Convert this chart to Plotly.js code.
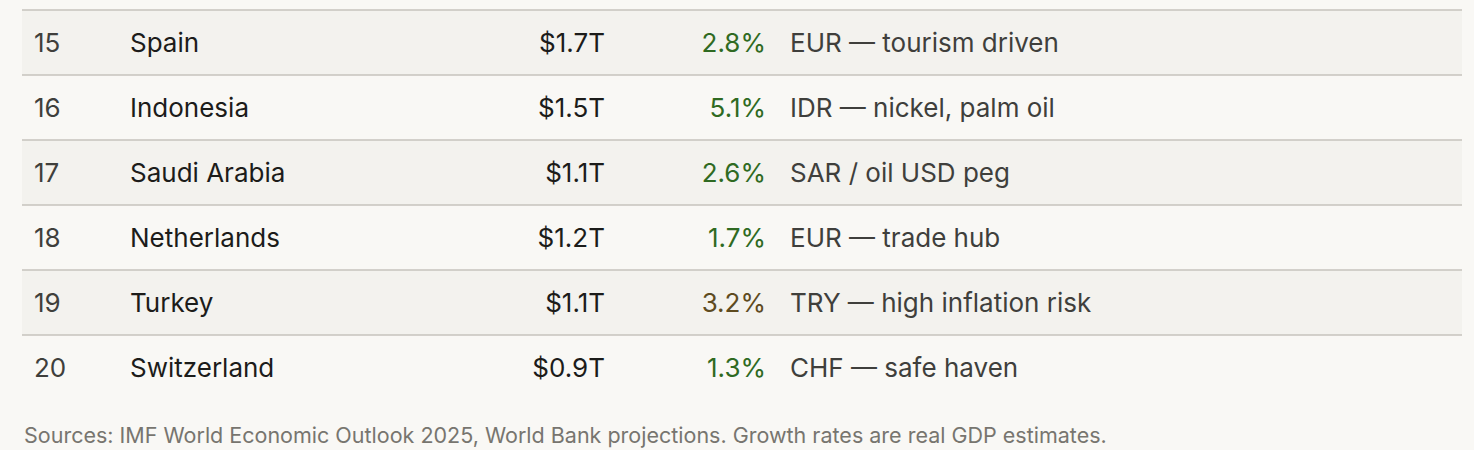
<!DOCTYPE html>
<html><head><meta charset="utf-8">
<script src="https://cdn.plot.ly/plotly-3.0.1.min.js"></script>
<style>html,body{margin:0;padding:0;background:#f9f8f5;}#chart{width:1474px;height:450px;}</style>
</head><body><div id="chart"></div>
<script>
// ---- data ----
const ranks = ['15', '16', '17', '18', '19', '20'];
const countries = ['Spain', 'Indonesia', 'Saudi Arabia', 'Netherlands', 'Turkey', 'Switzerland'];
const gdp = ['$1.7T', '$1.5T', '$1.1T', '$1.2T', '$1.1T', '$0.9T'];
const growth = ['2.8%', '5.1%', '2.6%', '1.7%', '3.2%', '1.3%'];
const growthRisk = [false, false, false, false, true, false];
const notes = ['EUR — tourism driven', 'IDR — nickel, palm oil', 'SAR / oil USD peg', 'EUR — trade hub', 'TRY — high inflation risk', 'CHF — safe haven'];
const footnote = 'Sources: IMF World Economic Outlook 2025, World Bank projections. Growth rates are real GDP estimates.';

// ---- layout helpers ----
const W = 1474, H = 450, ROWH = 65, TOP = 10, TEXT_SHIFT = 2.5;
const rowIdx = ranks.map((_, i) => i);
const FONT = 'Inter, "Noto Sans", sans-serif';
const FS = 26;

function col(values, xpos, pos, color) {
  return {
    type: 'scatter', mode: 'text', x: rowIdx.map(() => xpos), y: rowIdx,
    yaxis: 'y2',
    text: values, textposition: pos, hoverinfo: 'skip', cliponaxis: false,
    textfont: {family: FONT, size: FS, color: color}
  };
}

const traces = [
  col(ranks, 34, 'middle right', '#3f3f3c'),
  col(countries, 130, 'middle right', '#1c1c1a'),
  col(gdp, 605, 'middle left', '#1c1c1a'),
  col(growth, 766, 'middle left', growthRisk.map(r => r ? '#5e4b1f' : '#2f6a22')),
  col(notes, 790, 'middle right', '#3f3f3c')
];

const shapes = [];
rowIdx.forEach(i => {
  if (i % 2 === 0) {
    shapes.push({type: 'rect', xref: 'x', yref: 'y', x0: 22, x1: 1462, y0: i - 0.5, y1: i + 0.5,
      fillcolor: '#f3f2ee', line: {width: 0}, layer: 'below'});
  }
  shapes.push({type: 'line', xref: 'x', yref: 'y', x0: 22, x1: 1462, y0: i - 0.5, y1: i - 0.5,
    line: {color: '#c6c3bd', width: 1.3}, layer: 'below'});
});

const yr = [-0.5 + (H - TOP) / ROWH, -0.5 - TOP / ROWH];
const yr2 = [yr[0] - TEXT_SHIFT / ROWH, yr[1] - TEXT_SHIFT / ROWH];

const layout = {
  width: W, height: H, margin: {l: 0, r: 0, t: 0, b: 0},
  paper_bgcolor: '#f9f8f5', plot_bgcolor: '#f9f8f5', showlegend: false,
  xaxis: {range: [0, W], visible: false, fixedrange: true},
  yaxis: {range: yr, visible: false, fixedrange: true},
  yaxis2: {range: yr2, visible: false, fixedrange: true, overlaying: 'y'},
  shapes: shapes,
  annotations: [{
    xref: 'paper', yref: 'paper', x: 22 / W, y: 1 - 435 / H, xanchor: 'left', yanchor: 'middle',
    text: footnote, showarrow: false, font: {family: FONT, size: 21.5, color: '#77756f'}
  }]
};

Plotly.newPlot('chart', traces, layout, {staticPlot: true, displayModeBar: false});
</script></body></html>
